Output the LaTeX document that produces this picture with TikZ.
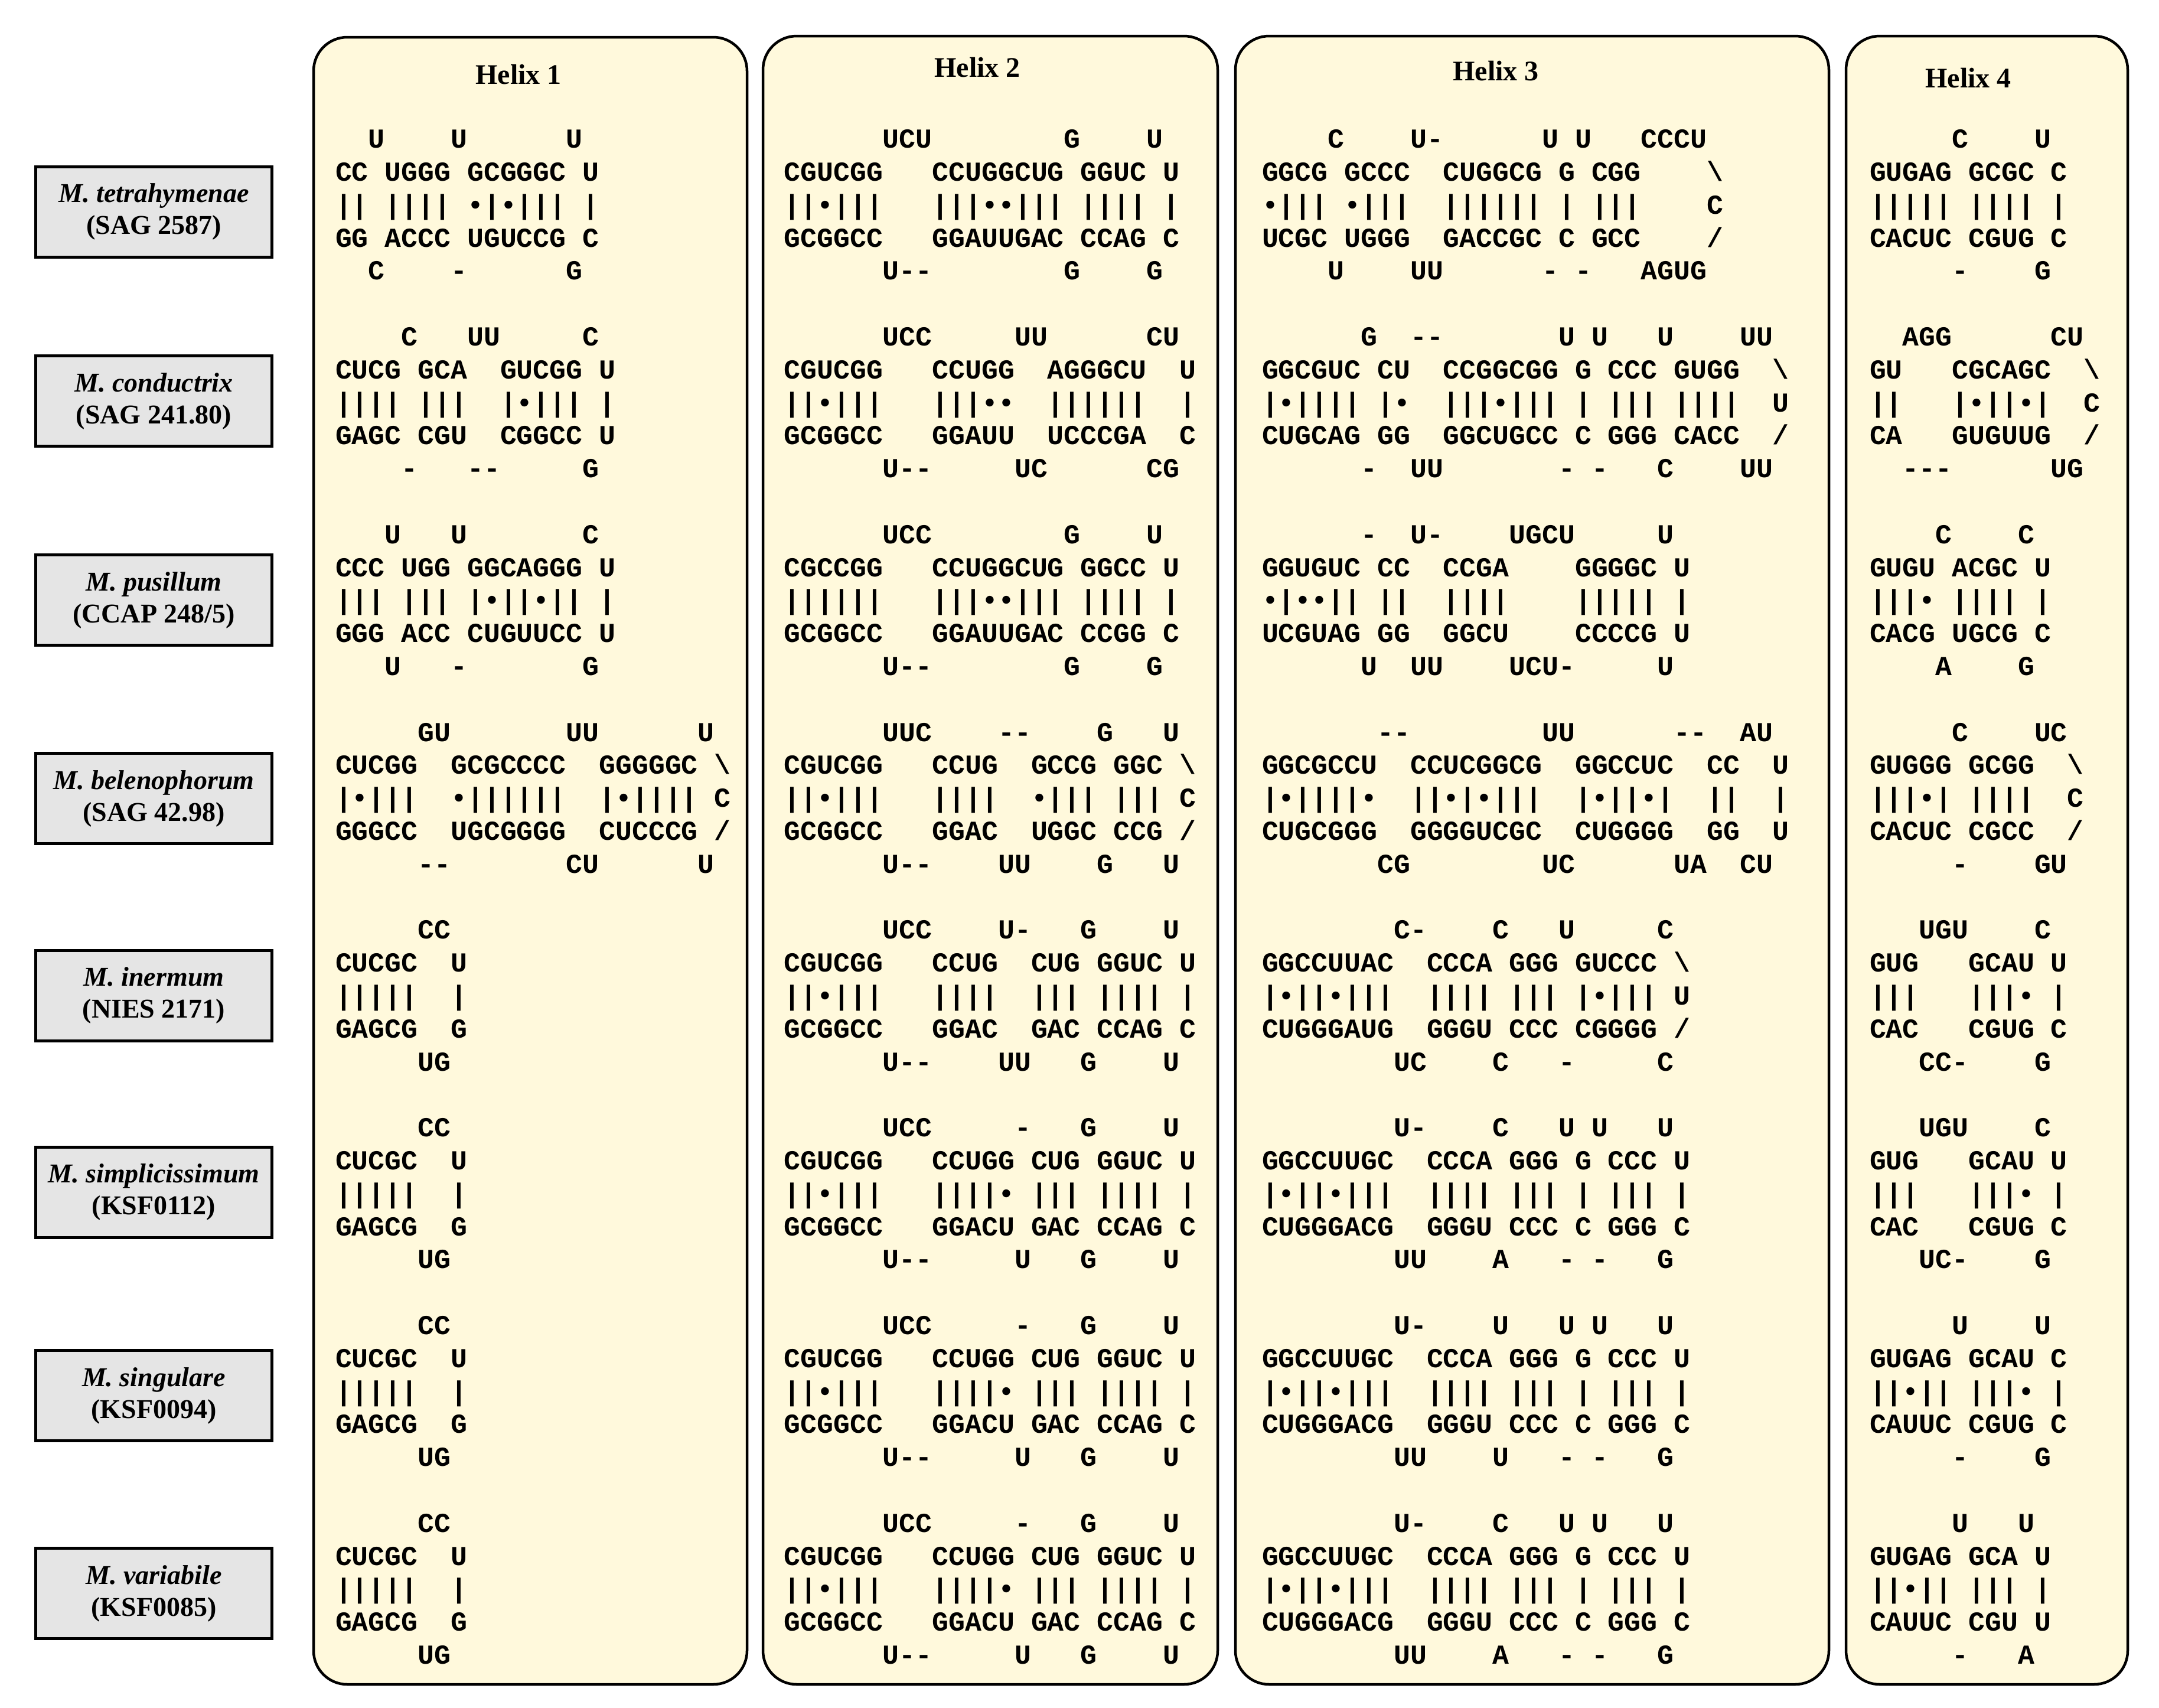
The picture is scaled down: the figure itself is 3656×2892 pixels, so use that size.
\documentclass[tikz,border=0pt]{standalone}
\usepackage{fontspec}
\setmainfont{Liberation Serif}
\newfontfamily\seqfont{Liberation Mono}
\definecolor{panelfill}{RGB}{255,249,220}
\definecolor{boxfill}{RGB}{229,229,229}
\newcommand\hy{\hbox{-}}
\newcommand\bsl{\textbackslash}
\tikzset{
  seq/.style={anchor=base west, inner sep=0pt, outer sep=0pt,
    font=\seqfont\bfseries\fontsize{9.3pt}{11pt}\selectfont},
  panel/.style={draw=black, line width=0.9pt, fill=panelfill, rounded corners=11.4pt},
  helixtitle/.style={inner sep=0pt, font=\bfseries\fontsize{9.6pt}{11pt}\selectfont},
  lbl/.style={draw=black, line width=1pt, fill=boxfill, minimum width=80pt,
    minimum height=30.6pt, inner sep=0pt, align=center,
    font=\bfseries\fontsize{9.2pt}{10.8pt}\selectfont}
}
\newcommand\seqblock[8]{%
  \node[seq] (#1-1) at (#2,#3) {#4};
  \node[seq] (#1-2) at (#2,#3+55.8) {#5};
  \node[seq] (#1-3) at (#2,#3+111.6) {#6};
  \node[seq] (#1-4) at (#2,#3+167.4) {#7};
  \node[seq] (#1-5) at (#2,#3+223.2) {#8};
}
\begin{document}
\begin{tikzpicture}[x=0.2pt, y=-0.2pt]
\useasboundingbox (0,0) rectangle (3656,2892);
\fill[white] (0,0) rectangle (3656,2892);

% panels
\draw[panel] (531,63) rectangle (1265,2852);
\draw[panel] (1292,61) rectangle (2062,2852);
\draw[panel] (2092,61) rectangle (3097,2852);
\draw[panel] (3126,61) rectangle (3603,2852);

\node[helixtitle] (t1) at (878,126) {Helix 1};
\node[helixtitle] (t2) at (1655,114) {Helix 2};
\node[helixtitle] (t3) at (2533,120) {Helix 3};
\node[helixtitle] (t4) at (3333,132) {Helix 4};

% species labels
\node[lbl] (s1) at (260.5,358.5) {\textit{M. tetrahymenae}\\(SAG 2587)};
\node[lbl] (s2) at (260.5,679) {\textit{M. conductrix}\\(SAG 241.80)};
\node[lbl] (s3) at (260.5,1016) {\textit{M. pusillum}\\(CCAP 248/5)};
\node[lbl] (s4) at (260.5,1352) {\textit{M. belenophorum}\\(SAG 42.98)};
\node[lbl] (s5) at (260.5,1685.5) {\textit{M. inermum}\\(NIES 2171)};
\node[lbl] (s6) at (260.5,2018.5) {\textit{M. simplicissimum}\\(KSF0112)};
\node[lbl] (s7) at (260.5,2363) {\textit{M. singulare}\\(KSF0094)};
\node[lbl] (s8) at (260.5,2698) {\textit{M. variabile}\\(KSF0085)};

% ---------------- Helix 1 ----------------
\seqblock{a1}{568}{250.7}
 {~~U~~~~U~~~~~~U}
 {CC~UGGG~GCGGGC~U}
 {||~||||~•|•|||~|}
 {GG~ACCC~UGUCCG~C}
 {~~C~~~~\hy~~~~~~G}
\seqblock{a2}{568}{585.5}
 {~~~~C~~~UU~~~~~C}
 {CUCG~GCA~~GUCGG~U}
 {||||~|||~~|•|||~|}
 {GAGC~CGU~~CGGCC~U}
 {~~~~\hy~~~\hy\hy~~~~~G}
\seqblock{a3}{568}{920.3}
 {~~~U~~~U~~~~~~~C}
 {CCC~UGG~GGCAGGG~U}
 {|||~|||~|•||•||~|}
 {GGG~ACC~CUGUUCC~U}
 {~~~U~~~\hy~~~~~~~G}
\seqblock{a4}{568}{1255.1}
 {~~~~~GU~~~~~~~UU~~~~~~U}
 {CUCGG~~GCGCCCC~~GGGGGC~\bsl}
 {|•|||~~•||||||~~|•||||~C}
 {GGGCC~~UGCGGGG~~CUCCCG~/}
 {~~~~~\hy\hy~~~~~~~CU~~~~~~U}
\seqblock{a5}{568}{1589.9}
 {~~~~~CC}{CUCGC~~U}{|||||~~|}{GAGCG~~G}{~~~~~UG}
\seqblock{a6}{568}{1924.7}
 {~~~~~CC}{CUCGC~~U}{|||||~~|}{GAGCG~~G}{~~~~~UG}
\seqblock{a7}{568}{2259.5}
 {~~~~~CC}{CUCGC~~U}{|||||~~|}{GAGCG~~G}{~~~~~UG}
\seqblock{a8}{568}{2594.3}
 {~~~~~CC}{CUCGC~~U}{|||||~~|}{GAGCG~~G}{~~~~~UG}

% ---------------- Helix 2 ----------------
\seqblock{b1}{1327.5}{250.7}
 {~~~~~~UCU~~~~~~~~G~~~~U}
 {CGUCGG~~~CCUGGCUG~GGUC~U}
 {||•|||~~~|||••|||~||||~|}
 {GCGGCC~~~GGAUUGAC~CCAG~C}
 {~~~~~~U\hy\hy~~~~~~~~G~~~~G}
\seqblock{b2}{1327.5}{585.5}
 {~~~~~~UCC~~~~~UU~~~~~~CU}
 {CGUCGG~~~CCUGG~~AGGGCU~~U}
 {||•|||~~~|||••~~||||||~~|}
 {GCGGCC~~~GGAUU~~UCCCGA~~C}
 {~~~~~~U\hy\hy~~~~~UC~~~~~~CG}
\seqblock{b3}{1327.5}{920.3}
 {~~~~~~UCC~~~~~~~~G~~~~U}
 {CGCCGG~~~CCUGGCUG~GGCC~U}
 {||||||~~~|||••|||~||||~|}
 {GCGGCC~~~GGAUUGAC~CCGG~C}
 {~~~~~~U\hy\hy~~~~~~~~G~~~~G}
\seqblock{b4}{1327.5}{1255.1}
 {~~~~~~UUC~~~~\hy\hy~~~~G~~~U}
 {CGUCGG~~~CCUG~~GCCG~GGC~\bsl}
 {||•|||~~~||||~~•|||~|||~C}
 {GCGGCC~~~GGAC~~UGGC~CCG~/}
 {~~~~~~U\hy\hy~~~~UU~~~~G~~~U}
\seqblock{b5}{1327.5}{1589.9}
 {~~~~~~UCC~~~~U\hy~~~G~~~~U}
 {CGUCGG~~~CCUG~~CUG~GGUC~U}
 {||•|||~~~||||~~|||~||||~|}
 {GCGGCC~~~GGAC~~GAC~CCAG~C}
 {~~~~~~U\hy\hy~~~~UU~~~G~~~~U}
\seqblock{b6}{1327.5}{1924.7}
 {~~~~~~UCC~~~~~\hy~~~G~~~~U}
 {CGUCGG~~~CCUGG~CUG~GGUC~U}
 {||•|||~~~||||•~|||~||||~|}
 {GCGGCC~~~GGACU~GAC~CCAG~C}
 {~~~~~~U\hy\hy~~~~~U~~~G~~~~U}
\seqblock{b7}{1327.5}{2259.5}
 {~~~~~~UCC~~~~~\hy~~~G~~~~U}
 {CGUCGG~~~CCUGG~CUG~GGUC~U}
 {||•|||~~~||||•~|||~||||~|}
 {GCGGCC~~~GGACU~GAC~CCAG~C}
 {~~~~~~U\hy\hy~~~~~U~~~G~~~~U}
\seqblock{b8}{1327.5}{2594.3}
 {~~~~~~UCC~~~~~\hy~~~G~~~~U}
 {CGUCGG~~~CCUGG~CUG~GGUC~U}
 {||•|||~~~||||•~|||~||||~|}
 {GCGGCC~~~GGACU~GAC~CCAG~C}
 {~~~~~~U\hy\hy~~~~~U~~~G~~~~U}

% ---------------- Helix 3 ----------------
\seqblock{c1}{2137}{250.7}
 {~~~~C~~~~U\hy~~~~~~U~U~~~CCCU}
 {GGCG~GCCC~~CUGGCG~G~CGG~~~~\bsl}
 {•|||~•|||~~||||||~|~|||~~~~C}
 {UCGC~UGGG~~GACCGC~C~GCC~~~~/}
 {~~~~U~~~~UU~~~~~~\hy~\hy~~~AGUG}
\seqblock{c2}{2137}{585.5}
 {~~~~~~G~~\hy\hy~~~~~~~U~U~~~U~~~~UU}
 {GGCGUC~CU~~CCGGCGG~G~CCC~GUGG~~\bsl}
 {|•||||~|•~~|||•|||~|~|||~||||~~U}
 {CUGCAG~GG~~GGCUGCC~C~GGG~CACC~~/}
 {~~~~~~\hy~~UU~~~~~~~\hy~\hy~~~C~~~~UU}
\seqblock{c3}{2137}{920.3}
 {~~~~~~\hy~~U\hy~~~~UGCU~~~~~U}
 {GGUGUC~CC~~CCGA~~~~GGGGC~U}
 {•|••||~||~~||||~~~~|||||~|}
 {UCGUAG~GG~~GGCU~~~~CCCCG~U}
 {~~~~~~U~~UU~~~~UCU\hy~~~~~U}
\seqblock{c4}{2137}{1255.1}
 {~~~~~~~\hy\hy~~~~~~~~UU~~~~~~\hy\hy~~AU}
 {GGCGCCU~~CCUCGGCG~~GGCCUC~~CC~~U}
 {|•||||•~~||•|•|||~~|•||•|~~||~~|}
 {CUGCGGG~~GGGGUCGC~~CUGGGG~~GG~~U}
 {~~~~~~~CG~~~~~~~~UC~~~~~~UA~~CU}
\seqblock{c5}{2137}{1589.9}
 {~~~~~~~~C\hy~~~~C~~~U~~~~~C}
 {GGCCUUAC~~CCCA~GGG~GUCCC~\bsl}
 {|•||•|||~~||||~|||~|•|||~U}
 {CUGGGAUG~~GGGU~CCC~CGGGG~/}
 {~~~~~~~~UC~~~~C~~~\hy~~~~~C}
\seqblock{c6}{2137}{1924.7}
 {~~~~~~~~U\hy~~~~C~~~U~U~~~U}
 {GGCCUUGC~~CCCA~GGG~G~CCC~U}
 {|•||•|||~~||||~|||~|~|||~|}
 {CUGGGACG~~GGGU~CCC~C~GGG~C}
 {~~~~~~~~UU~~~~A~~~\hy~\hy~~~G}
\seqblock{c7}{2137}{2259.5}
 {~~~~~~~~U\hy~~~~U~~~U~U~~~U}
 {GGCCUUGC~~CCCA~GGG~G~CCC~U}
 {|•||•|||~~||||~|||~|~|||~|}
 {CUGGGACG~~GGGU~CCC~C~GGG~C}
 {~~~~~~~~UU~~~~U~~~\hy~\hy~~~G}
\seqblock{c8}{2137}{2594.3}
 {~~~~~~~~U\hy~~~~C~~~U~U~~~U}
 {GGCCUUGC~~CCCA~GGG~G~CCC~U}
 {|•||•|||~~||||~|||~|~|||~|}
 {CUGGGACG~~GGGU~CCC~C~GGG~C}
 {~~~~~~~~UU~~~~A~~~\hy~\hy~~~G}

% ---------------- Helix 4 ----------------
\seqblock{d1}{3166}{250.7}
 {~~~~~C~~~~U}
 {GUGAG~GCGC~C}
 {|||||~||||~|}
 {CACUC~CGUG~C}
 {~~~~~\hy~~~~G}
\seqblock{d2}{3166}{585.5}
 {~~AGG~~~~~~CU}
 {GU~~~CGCAGC~~\bsl}
 {||~~~|•||•|~~C}
 {CA~~~GUGUUG~~/}
 {~~\hy\hy\hy~~~~~~UG}
\seqblock{d3}{3166}{920.3}
 {~~~~C~~~~C}
 {GUGU~ACGC~U}
 {|||•~||||~|}
 {CACG~UGCG~C}
 {~~~~A~~~~G}
\seqblock{d4}{3166}{1255.1}
 {~~~~~C~~~~UC}
 {GUGGG~GCGG~~\bsl}
 {|||•|~||||~~C}
 {CACUC~CGCC~~/}
 {~~~~~\hy~~~~GU}
\seqblock{d5}{3166}{1589.9}
 {~~~UGU~~~~C}
 {GUG~~~GCAU~U}
 {|||~~~|||•~|}
 {CAC~~~CGUG~C}
 {~~~CC\hy~~~~G}
\seqblock{d6}{3166}{1924.7}
 {~~~UGU~~~~C}
 {GUG~~~GCAU~U}
 {|||~~~|||•~|}
 {CAC~~~CGUG~C}
 {~~~UC\hy~~~~G}
\seqblock{d7}{3166}{2259.5}
 {~~~~~U~~~~U}
 {GUGAG~GCAU~C}
 {||•||~|||•~|}
 {CAUUC~CGUG~C}
 {~~~~~\hy~~~~G}
\seqblock{d8}{3166}{2594.3}
 {~~~~~U~~~U}
 {GUGAG~GCA~U}
 {||•||~|||~|}
 {CAUUC~CGU~U}
 {~~~~~\hy~~~A}
\end{tikzpicture}
\end{document}
